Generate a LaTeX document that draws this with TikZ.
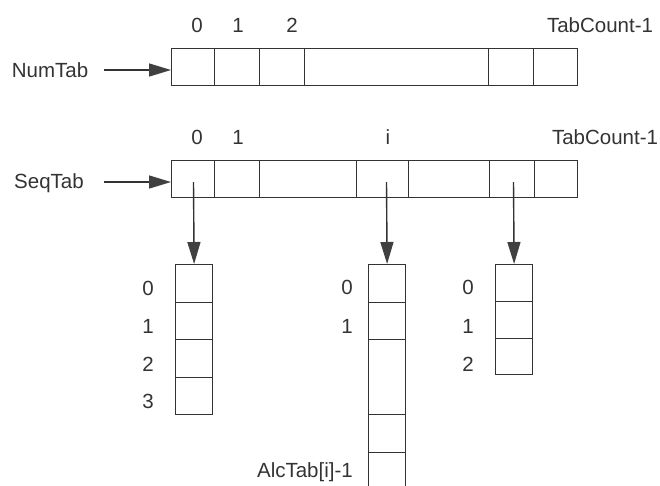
\documentclass[tikz,border=0pt]{standalone}
\usepackage{fontspec}
\setmainfont{Liberation Sans}
\usetikzlibrary{arrows.meta}
\definecolor{ink}{HTML}{333333}
\definecolor{tipc}{HTML}{404040}
\tikzset{
  cellbox/.style={draw=ink, line width=1.2pt, inner sep=0pt, anchor=north west, minimum height=37pt},
  lbl/.style={text=ink, inner sep=0pt, font=\fontsize{20.5}{24}\selectfont},
  arr/.style={draw=ink, line width=1.4pt, -{Triangle[length=22pt,width=13pt,fill=tipc,color=tipc]}}
}
\begin{document}
\begin{tikzpicture}[x=1pt,y=-1pt]
\useasboundingbox (0,0) rectangle (660,485);
\clip (0,0) rectangle (660,485);
% NumTab array
\foreach \a/\b/\n in {171/214/n0,214/259/n1,259/304/n2,304/488/n3,488/533/n4,533/577/n5}{
  \node[cellbox, minimum width={\b-\a}] (\n) at (\a,47.5) {};
}
% SeqTab array
\foreach \a/\b/\n in {171/214/s0,214/259/s1,259/356/s2,356/408/s3,408/489/s4,489/534/s5,534/577/s6}{
  \node[cellbox, minimum width={\b-\a}] (\n) at (\a,160) {};
}
% Column 1
\foreach \t/\n in {264/a0,301.5/a1,339/a2,376.5/a3}{
  \node[cellbox, minimum width=37pt, minimum height=37.5pt] (\n) at (175,\t) {};
}
% Column 2
\node[cellbox, minimum width=37pt, minimum height=38pt] (b0) at (368,264) {};
\node[cellbox, minimum width=37pt, minimum height=37pt] (b1) at (368,302) {};
\node[cellbox, minimum width=37pt, minimum height=75pt] (b2) at (368,339) {};
\node[cellbox, minimum width=37pt, minimum height=38pt] (b3) at (368,414) {};
\node[cellbox, minimum width=37pt, minimum height=40pt] (b4) at (368,452) {};
% Column 3
\node[cellbox, minimum width=37pt, minimum height=37pt] (c0) at (495,264) {};
\node[cellbox, minimum width=37pt, minimum height=37pt] (c1) at (495,301) {};
\node[cellbox, minimum width=37pt, minimum height=36pt] (c2) at (495,338) {};
% labels top
\node[lbl] (numtab) at (50,70) {NumTab};
\node[lbl] (seqtab) at (49,183) {SeqTab};
\node[lbl] (nl0) at (197,25) {0};
\node[lbl] (nl1) at (238,25) {1};
\node[lbl] (nl2) at (292,25) {2};
\node[lbl] (nlt) at (600,25) {TabCount-1};
\node[lbl] (sl0) at (197,137) {0};
\node[lbl] (sl1) at (238,137) {1};
\node[lbl] (sli) at (388,137) {i};
\node[lbl] (slt) at (605,137) {TabCount-1};
% column labels
\node[lbl] (al0) at (148,288) {0};
\node[lbl] (al1) at (148,326) {1};
\node[lbl] (al2) at (148,364) {2};
\node[lbl] (al3) at (148,401) {3};
\node[lbl] (bl0) at (347,287) {0};
\node[lbl] (bl1) at (347,326) {1};
\node[lbl, anchor=east] (blz) at (353,472) {AlcTab[i]-1};
\node[lbl] (cl0) at (468,287) {0};
\node[lbl] (cl1) at (468,326) {1};
\node[lbl] (cl2) at (468,364) {2};
% connectors
\coordinate (nstart) at (104,70);
\coordinate (sstart) at (104,182);
\draw[arr] (nstart) -- (nstart -| n0.west);
\draw[arr] (sstart) -- (sstart -| s0.west);
\coordinate (p0) at (193.5,182);
\coordinate (p1) at (386.5,182);
\coordinate (p2) at (513.5,182);
\draw[arr] (p0) -- (a0.north);
\draw[arr] (p1) -- (b0.north);
\draw[arr] (p2) -- (c0.north);
\end{tikzpicture}
\end{document}
